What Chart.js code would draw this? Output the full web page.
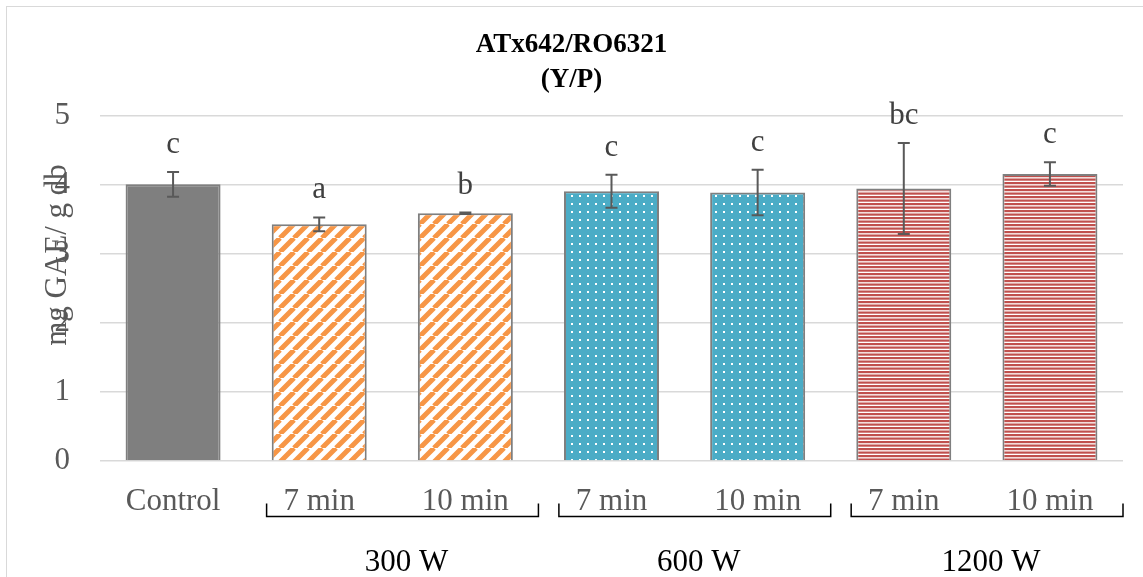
<!DOCTYPE html>
<html>
<head>
<meta charset="utf-8">
<script src="https://cdn.jsdelivr.net/npm/chart.js@4.4.1/dist/chart.umd.min.js"></script>
<style>
  html, body { margin: 0; padding: 0; background: #fff; }
  #wrap { width: 1143px; height: 577px; }
</style>
</head>
<body>
<div id="wrap"><canvas id="gaeChart" width="1143" height="577"></canvas></div>
<script>
// Total phenolics, ATx642/RO6321 (Y/P)
const categories = ['Control', '7 min', '10 min', '7 min', '10 min', '7 min', '10 min'];
const means = [4.01, 3.43, 3.59, 3.91, 3.89, 3.95, 4.16];
const errors = [0.18, 0.10, 0.01, 0.24, 0.33, 0.66, 0.17];
const letters = ['c', 'a', 'b', 'c', 'c', 'bc', 'c'];
const groups = ['300 W', '600 W', '1200 W'];
const groupStart = [1, 3, 5];
const yTicks = [0, 1, 2, 3, 4, 5];
const titleLines = ['ATx642/RO6321', '(Y/P)'];

const SERIF = '"Liberation Serif", "Times New Roman", serif';

// fill patterns
function diagPattern(color) {
  const c = document.createElement('canvas');
  c.width = 14; c.height = 14;
  const g = c.getContext('2d');
  g.fillStyle = '#fff';
  g.fillRect(0, 0, 14, 14);
  g.strokeStyle = color;
  g.lineWidth = 5;
  g.beginPath();
  for (const o of [-14, 0, 14]) {
    g.moveTo(o, 14);
    g.lineTo(o + 14, 0);
  }
  g.stroke();
  return g.createPattern(c, 'repeat');
}

function dotPattern(color) {
  const c = document.createElement('canvas');
  c.width = 8; c.height = 8;
  const g = c.getContext('2d');
  g.fillStyle = color;
  g.fillRect(0, 0, 8, 8);
  g.fillStyle = '#fff';
  g.fillRect(3, 3, 2, 2);
  return g.createPattern(c, 'repeat');
}

function hlinePattern(color) {
  const c = document.createElement('canvas');
  c.width = 8; c.height = 7;
  const g = c.getContext('2d');
  g.fillStyle = '#fff';
  g.fillRect(0, 0, 8, 7);
  g.fillStyle = color;
  g.fillRect(0, 0, 8, 2.2);
  g.fillRect(0, 3.5, 8, 2.2);
  return g.createPattern(c, 'repeat');
}

const orange = diagPattern('#f79646');
const teal = dotPattern('#4bacc6');
const red = hlinePattern('#c0504d');
const fills = ['#7f7f7f', orange, orange, teal, teal, red, red];

// white page, outer frame and the two-line title centred on the page
const frame = {
  id: 'frame',
  beforeDraw(chart) {
    const ctx = chart.ctx;
    ctx.save();
    ctx.fillStyle = '#fff';
    ctx.fillRect(0, 0, chart.width, chart.height);
    ctx.strokeStyle = '#d9d9d9';
    ctx.lineWidth = 1;
    ctx.strokeRect(6.5, 6.5, 2000, 2000);
    ctx.fillStyle = '#000';
    ctx.font = 'bold 27px ' + SERIF;
    ctx.textAlign = 'center';
    ctx.textBaseline = 'alphabetic';
    titleLines.forEach((t, i) => ctx.fillText(t, chart.width / 2, 52 + i * 35));
    ctx.restore();
  }
};

// error bars and significance letters
const errorBars = {
  id: 'errorBars',
  afterDatasetsDraw(chart) {
    const { ctx, scales: { x, y } } = chart;
    ctx.save();
    ctx.strokeStyle = '#595959';
    ctx.lineWidth = 2;
    ctx.font = '31px ' + SERIF;
    ctx.fillStyle = '#404040';
    ctx.textAlign = 'center';
    ctx.textBaseline = 'alphabetic';
    means.forEach((m, i) => {
      const px = x.getPixelForValue(i);
      const top = y.getPixelForValue(m + errors[i]);
      const bot = y.getPixelForValue(m - errors[i]);
      ctx.beginPath();
      ctx.moveTo(px, top); ctx.lineTo(px, bot);
      ctx.moveTo(px - 6, top); ctx.lineTo(px + 6, top);
      ctx.moveTo(px - 6, bot); ctx.lineTo(px + 6, bot);
      ctx.stroke();
      ctx.fillText(letters[i], px, top - 19);
    });
    ctx.restore();
  }
};

// y title, group brackets and group names
const annotations = {
  id: 'annotations',
  afterDraw(chart) {
    const { ctx, chartArea, scales: { x } } = chart;
    ctx.save();
    ctx.font = '31px ' + SERIF;
    ctx.fillStyle = '#595959';
    ctx.translate(66, 255);
    ctx.rotate(-Math.PI / 2);
    ctx.textAlign = 'center';
    ctx.textBaseline = 'alphabetic';
    ctx.fillText('mg GAE/ g db', 0, 0);
    ctx.restore();

    const catW = x.getPixelForValue(1) - x.getPixelForValue(0);
    const lineY = chartArea.bottom + 55.5;
    ctx.save();
    ctx.strokeStyle = '#000';
    ctx.lineWidth = 1.5;
    ctx.fillStyle = '#000';
    ctx.font = '31px ' + SERIF;
    ctx.textAlign = 'center';
    ctx.textBaseline = 'alphabetic';
    groups.forEach((name, k) => {
      const i = groupStart[k];
      const left = x.getPixelForValue(i) - 0.36 * catW;
      const right = x.getPixelForValue(i + 1) + 0.5 * catW;
      ctx.beginPath();
      ctx.moveTo(left, lineY - 13);
      ctx.lineTo(left, lineY);
      ctx.lineTo(right, lineY);
      ctx.lineTo(right, lineY - 13);
      ctx.stroke();
      ctx.fillText(name, (left + right) / 2 + 4, chartArea.bottom + 110);
    });
    ctx.restore();
  }
};

new Chart(document.getElementById('gaeChart'), {
  type: 'bar',
  data: {
    labels: categories,
    datasets: [{
      data: means,
      backgroundColor: fills,
      borderColor: '#7f7f7f',
      borderWidth: 2,
      categoryPercentage: 1,
      barPercentage: 0.65
    }]
  },
  options: {
    responsive: false,
    animation: false,
    devicePixelRatio: 1,
    layout: { padding: { left: 0, right: 20, top: 116, bottom: 0 } },
    plugins: {
      legend: { display: false },
      tooltip: { enabled: false },
      title: { display: false }
    },
    scales: {
      x: {
        grid: { display: false },
        border: { display: false },
        ticks: {
          color: '#595959',
          font: { family: SERIF, size: 31 },
          padding: 14,
          maxRotation: 0,
          autoSkip: false
        },
        afterFit(s) { s.height = 116; }
      },
      y: {
        min: 0,
        max: 5,
        afterBuildTicks(s) { s.ticks = yTicks.map(v => ({ value: v })); },
        ticks: {
          color: '#595959',
          font: { family: SERIF, size: 31 },
          padding: 30
        },
        grid: { color: '#d9d9d9', lineWidth: 1.5, drawTicks: false },
        border: { display: false },
        afterFit(s) { s.width = 100; }
      }
    }
  },
  plugins: [frame, errorBars, annotations]
});
</script>
</body>
</html>
